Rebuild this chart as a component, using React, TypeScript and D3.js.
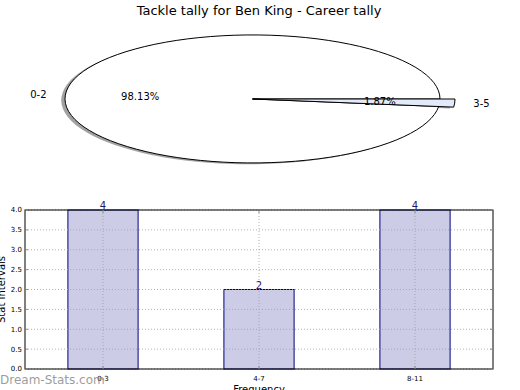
import * as d3 from "d3";
import { useEffect, useRef } from "react";

const title = "Tackle tally for Ben King - Career tally";
const pieLabels = ["0-2", "3-5"];
const pieValues = [98.13, 1.87];
const pieColors = ["#ffffff", "#e2e9f8"];
const pieExplode = [0, 0.08];

const barLabels = ["0-3", "4-7", "8-11"];
const barValues = [4, 2, 4];
const yTicks = [0, 0.5, 1, 1.5, 2, 2.5, 3, 3.5, 4];

const W = 520;
const H = 390;

function App() {
	const ref = useRef<SVGSVGElement | null>(null);

	useEffect(() => {
		const svg = d3.select(ref.current);
		svg.selectAll("*").remove();
		const font = "DejaVu Sans, sans-serif";

		svg.append("rect").attr("width", W).attr("height", H).attr("fill", "#fff");

		svg.append("text")
			.attr("x", 259)
			.attr("y", 15)
			.attr("text-anchor", "middle")
			.attr("font-family", font)
			.attr("font-size", 13)
			.text(title);

		// pie: counterclockwise from east, stretched to an ellipse
		const cx = 252.5, cy = 99, rx = 187.5, ry = 64;
		const pie = d3.pie<number>().sort(null).startAngle(Math.PI / 2).endAngle(Math.PI / 2 - 2 * Math.PI);
		const arcs = pie(pieValues);
		const gPie = svg.append("g");

		const midMpl = (a: d3.PieArcDatum<number>) => Math.PI / 2 - (a.startAngle + a.endAngle) / 2;
		const arcFor = (i: number) => d3.arc<d3.PieArcDatum<number>>().innerRadius(0).outerRadius(1 + pieExplode[i]);

		// shadows
		arcs.forEach((a, i) => {
			gPie.append("path")
				.attr("d", arcFor(i)(a))
				.attr("transform", `translate(${cx - 0.02 * rx},${cy + 0.02 * ry}) scale(${rx},${ry})`)
				.attr("fill", "#7a7a7a")
				.attr("opacity", 0.7);
		});

		arcs.forEach((a, i) => {
			gPie.append("path")
				.attr("d", arcFor(i)(a))
				.attr("transform", `translate(${cx},${cy}) scale(${rx},${ry})`)
				.attr("fill", pieColors[i])
				.attr("stroke", "#000")
				.attr("stroke-width", 1)
				.attr("vector-effect", "non-scaling-stroke");
		});

		arcs.forEach((a, i) => {
			const t = midMpl(a);
			const ox = cx + pieExplode[i] * rx * Math.cos(t);
			const oy = cy - pieExplode[i] * ry * Math.sin(t);
			const lx = ox + 1.1 * rx * Math.cos(t);
			const ly = oy - 1.1 * ry * Math.sin(t);
			gPie.append("text")
				.attr("x", lx)
				.attr("y", ly)
				.attr("dy", "0.35em")
				.attr("text-anchor", Math.cos(t) < 0 ? "end" : "start")
				.attr("font-family", font)
				.attr("font-size", 10)
				.text(pieLabels[i]);
			const px = ox + 0.6 * rx * Math.cos(t);
			const py = oy - 0.6 * ry * Math.sin(t);
			gPie.append("text")
				.attr("x", px)
				.attr("y", py)
				.attr("dy", "0.35em")
				.attr("text-anchor", "middle")
				.attr("font-family", font)
				.attr("font-size", 10)
				.text(pieValues[i].toFixed(2) + "%");
		});

		// bar chart
		const left = 25, right = 493, top = 210, bottom = 369;
		const x = d3.scaleLinear().domain([-0.5, barLabels.length - 0.5]).range([left, right]);
		const y = d3.scaleLinear().domain([0, 4]).range([bottom, top]);
		const bw = 0.45;
		const g = svg.append("g");

		g.selectAll("rect.bar")
			.data(barValues)
			.enter()
			.append("rect")
			.attr("class", "bar")
			.attr("x", (_, i) => x(i - bw / 2))
			.attr("y", (d) => y(d))
			.attr("width", x(bw) - x(0))
			.attr("height", (d) => bottom - y(d))
			.attr("fill", "#ccccE6")
			.attr("stroke", "#000080")
			.attr("stroke-width", 1);

		g.selectAll("text.val")
			.data(barValues)
			.enter()
			.append("text")
			.attr("class", "val")
			.attr("x", (_, i) => x(i))
			.attr("y", (d) => y(d) - 1)
			.attr("text-anchor", "middle")
			.attr("font-family", font)
			.attr("font-size", 10)
			.attr("fill", "#1a1a6e")
			.text((d) => d);

		// dotted grid drawn over the bars
		barLabels.forEach((_, i) => {
			g.append("line")
				.attr("x1", x(i)).attr("x2", x(i))
				.attr("y1", top).attr("y2", bottom)
				.attr("stroke", "#a0a0a0")
				.attr("stroke-width", 0.8)
				.attr("stroke-dasharray", "1,2");
		});
		yTicks.forEach((t) => {
			g.append("line")
				.attr("x1", left).attr("x2", right)
				.attr("y1", y(t)).attr("y2", y(t))
				.attr("stroke", "#a0a0a0")
				.attr("stroke-width", 0.8)
				.attr("stroke-dasharray", "1,2");
		});

		g.append("rect")
			.attr("x", left).attr("y", top)
			.attr("width", right - left).attr("height", bottom - top)
			.attr("fill", "none")
			.attr("stroke", "#000")
			.attr("stroke-width", 1);

		yTicks.forEach((t) => {
			g.append("line").attr("x1", left).attr("x2", left + 3).attr("y1", y(t)).attr("y2", y(t)).attr("stroke", "#888");
			g.append("line").attr("x1", right - 3).attr("x2", right).attr("y1", y(t)).attr("y2", y(t)).attr("stroke", "#888");
			g.append("text")
				.attr("x", left - 3)
				.attr("y", y(t))
				.attr("dy", "0.35em")
				.attr("text-anchor", "end")
				.attr("font-family", font)
				.attr("font-size", 7)
				.text(t.toFixed(1));
		});
		barLabels.forEach((l, i) => {
			g.append("line").attr("x1", x(i)).attr("x2", x(i)).attr("y1", bottom).attr("y2", bottom - 3).attr("stroke", "#888");
			g.append("line").attr("x1", x(i)).attr("x2", x(i)).attr("y1", top).attr("y2", top + 3).attr("stroke", "#888");
			g.append("text")
				.attr("x", x(i))
				.attr("y", bottom + 12)
				.attr("text-anchor", "middle")
				.attr("font-family", font)
				.attr("font-size", 7)
				.text(l);
		});

		g.append("text")
			.attr("x", (left + right) / 2)
			.attr("y", 393)
			.attr("text-anchor", "middle")
			.attr("font-family", font)
			.attr("font-size", 10)
			.text("Frequency");

		g.append("text")
			.attr("transform", `translate(1,${(top + bottom) / 2}) rotate(-90)`)
			.attr("dy", "0.35em")
			.attr("text-anchor", "middle")
			.attr("font-family", font)
			.attr("font-size", 10)
			.text("Stat Intervals");

		svg.append("text")
			.attr("x", 0)
			.attr("y", 384)
			.attr("font-family", font)
			.attr("font-size", 12)
			.attr("fill", "#8a8a8a")
			.attr("fill-opacity", 0.85)
			.text("Dream-Stats.com");
	}, []);

	return (
		<svg
			ref={ref}
			width={W}
			height={H}
			style={{ position: "absolute", left: 0, top: 0, display: "block" }}
		/>
	);
}

export default App;
